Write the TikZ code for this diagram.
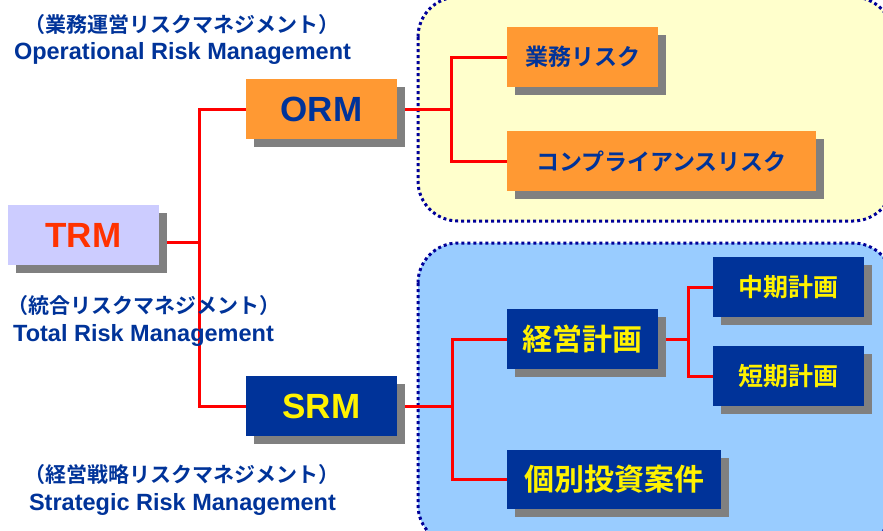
\documentclass[tikz,border=0pt]{standalone}
\usepackage{fontspec}
\setmainfont{Liberation Sans}
\newfontfamily\jpfont{Noto Sans CJK JP}[BoldFont={* Bold}]
\usetikzlibrary{shadows}

\definecolor{boxorange}{HTML}{FF9933}
\definecolor{boxnavy}{HTML}{003399}
\definecolor{boxlilac}{HTML}{CCCCFF}
\definecolor{trmred}{HTML}{FF3300}
\definecolor{textblue}{HTML}{003399}
\definecolor{paleyellow}{HTML}{FFFFCC}
\definecolor{paleblue}{HTML}{99CCFF}
\definecolor{rimblue}{HTML}{000099}
\definecolor{linkred}{HTML}{FF0000}

\pgfdeclarelayer{back}
\pgfdeclarelayer{wires}
\pgfsetlayers{back,wires,main}

\tikzset{
  box/.style={minimum height=60pt, inner sep=0pt, outer sep=0pt,
    drop shadow={shadow xshift=8pt, shadow yshift=-8pt, fill=black!50, opacity=1}},
  abbr/.style={box, minimum width=151pt, font=\bfseries\fontsize{35}{35}\selectfont},
  kanji/.style={box, font=\jpfont\bfseries\fontsize{#1}{#1}\selectfont},
  orangebox/.style={fill=boxorange, text=textblue},
  navybox/.style={fill=boxnavy, text=yellow},
  jlabel/.style={inner sep=0pt, anchor=base, text=textblue,
    font=\jpfont\bfseries\fontsize{21}{21}\selectfont},
  elabel/.style={inner sep=0pt, anchor=base, text=textblue,
    font=\bfseries\fontsize{23.5}{23.5}\selectfont},
  link/.style={draw=linkred, line width=3pt},
  panel/.style={draw=rimblue, line width=3pt, dash pattern=on 3pt off 3pt,
    rounded corners=40pt}
}

\begin{document}
\begin{tikzpicture}[x=1pt, y=-1pt]
  \useasboundingbox (0,0) rectangle (883,530);

  % dotted panels
  \begin{pgfonlayer}{back}
    \draw[panel, fill=paleyellow] (418,-3) rectangle (893,221);
    \draw[panel, fill=paleblue] (418,243) rectangle (893,545);
  \end{pgfonlayer}

  % main boxes
  \node[abbr, fill=boxlilac, text=trmred] (TRM) at (83.5,235) {TRM};
  \node[abbr, orangebox] (ORM) at (321.5,109) {ORM};
  \node[abbr, navybox] (SRM) at (321.5,406) {SRM};

  % ORM branch
  \node[kanji=23, orangebox, minimum width=151pt] (gyomu) at (582.5,57) {業務リスク};
  \node[kanji=23, orangebox, minimum width=309pt] (comp) at (661.5,161) {コンプライアンスリスク};

  % SRM branch
  \node[kanji=30, navybox, minimum width=151pt] (keiei) at (582.5,339) {経営計画};
  \node[kanji=30, navybox, minimum width=214pt, minimum height=59pt] (kobetsu) at (614,479.5) {個別投資案件};
  \node[kanji=25, navybox, minimum width=151pt] (chuki) at (788.5,287) {中期計画};
  \node[kanji=25, navybox, minimum width=151pt] (tanki) at (788.5,376) {短期計画};

  % captions
  \node[jlabel] (orm-jp) at (181.5,32) {（業務運営リスクマネジメント）};
  \node[elabel] (orm-en) at (182.5,59) {Operational Risk Management};
  \node[jlabel] (trm-jp) at (144.5,313.5) {（統合リスクマネジメント）};
  \node[elabel] (trm-en) at (143.5,341) {Total Risk Management};
  \node[jlabel] (srm-jp) at (181.5,482.5) {（経営戦略リスクマネジメント）};
  \node[elabel] (srm-en) at (182.5,510) {Strategic Risk Management};

  % red tree lines
  \coordinate (trunk) at (199,242);
  \begin{pgfonlayer}{wires}
    \draw[link] ([yshift=-7pt]TRM.east) -- (trunk);
    \draw[link] (ORM.west) -- ++(-47,0) |- (SRM.west);
    \draw[link] (ORM.east) -- ++(54,0) coordinate (forkO);
    \draw[link] (gyomu.west) -| (forkO) |- (comp.west);
    \draw[link] (SRM.east) -- ++(55,0) coordinate (forkS);
    \draw[link] (keiei.west) -| (forkS) |- (kobetsu.west);
    \draw[link] (keiei.east) -- ++(30,0) coordinate (forkK);
    \draw[link] (chuki.west) -| (forkK) |- (tanki.west);
  \end{pgfonlayer}
\end{tikzpicture}
\end{document}
